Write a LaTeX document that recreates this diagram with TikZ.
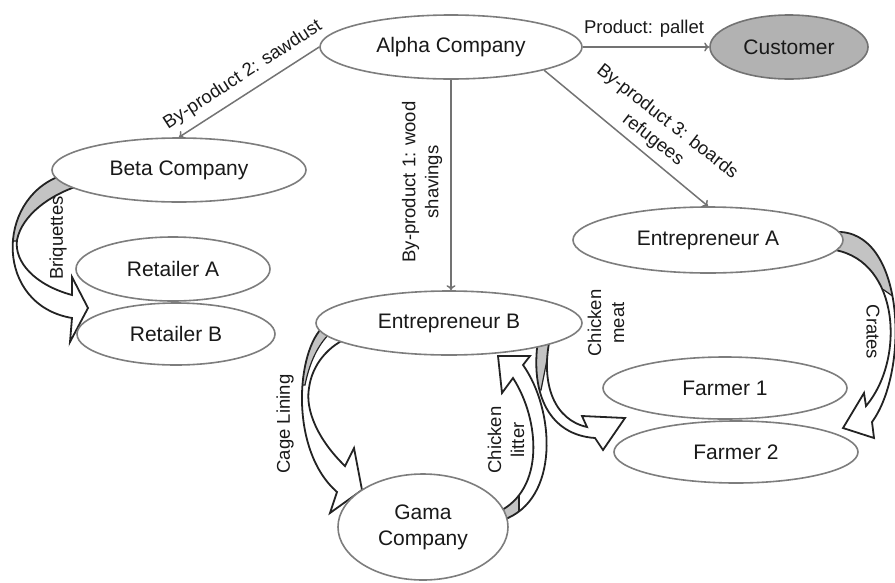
\documentclass[tikz,border=0pt]{standalone}
\usepackage{fontspec}
\setmainfont{Liberation Sans}
\usetikzlibrary{shapes.geometric,arrows.meta}
\definecolor{ellline}{RGB}{125,125,125}
\definecolor{connc}{RGB}{115,115,115}
\definecolor{custfill}{RGB}{178,178,178}
\definecolor{wedgec}{RGB}{195,195,195}
\definecolor{ink}{RGB}{25,25,25}
\definecolor{bandc}{RGB}{35,35,35}
\begin{document}
\begin{tikzpicture}[x=1pt,y=-1pt,
  ell/.style={ellipse, draw=ellline, line width=1.6pt, fill=white, inner sep=0pt,
    font=\fontsize{21}{26}\selectfont, text=ink, align=center},
  lab/.style={font=\fontsize{18.5}{23}\selectfont, text=ink, inner sep=0pt, align=center},
  conn/.style={draw=connc, line width=1.5pt, -{To[length=5pt,width=9pt]}},
  band/.style={draw=bandc, line width=1.8pt, line join=miter},
  bandfill/.style={fill=white},
  wedge/.style={fill=wedgec, draw=bandc, line width=1.2pt},
]
\useasboundingbox (0,0) rectangle (895,582);

% ---------- block arrows ----------
\def\bandBriq{(60,176) .. controls (-5,200) and (-5,305) .. (72,318) -- (70,342) -- (88,308) -- (72,277) -- (72,295) .. controls (35,285) and (14,262) .. (17,240) .. controls (22,215) and (50,195) .. (78,186) -- cycle}
\def\bandCage{(324,326) .. controls (296,350) and (289,450) .. (337,492) -- (330,513) -- (362,490) -- (354,448) -- (345,466) .. controls (318,440) and (305,410) .. (309,388) .. controls (312,365) and (328,345) .. (352,336) -- cycle}
\def\bandLit{(503,520) .. controls (560,500) and (555,410) .. (523,365) -- (530,356) -- (498,356) -- (502,393) -- (513,378) .. controls (540,420) and (545,490) .. (498,512) -- cycle}
\def\bandMeat{(538,340) .. controls (530,395) and (550,435) .. (595,438) -- (603,450) -- (625,418) -- (582,416) -- (587,427) .. controls (555,420) and (540,385) .. (550,338) -- cycle}
\def\bandCrat{(835,232) .. controls (905,228) and (910,370) .. (872,422) -- (874,438) -- (843,428) -- (864,393) -- (866,406) .. controls (905,360) and (900,262) .. (835,250) -- cycle}

\fill[bandfill] \bandBriq;
\begin{scope}\clip \bandBriq;
  \draw[wedge] (-10,150) -- (100,150) -- (100,200) -- (17,241) -- (-10,241) -- cycle;
\end{scope}
\draw[band] \bandBriq;

\fill[bandfill] \bandCage;
\begin{scope}\clip \bandCage;
  \draw[wedge] (290,320) -- (336,320) -- (336,328) .. controls (320,340) and (310,360) .. (305,385) -- (290,385) -- cycle;
\end{scope}
\draw[band] \bandCage;

\fill[bandfill] \bandLit;
\begin{scope}\clip \bandLit;
  \draw[wedge] (480,490) -- (519,490) -- (519,540) -- (480,540) -- cycle;
\end{scope}
\draw[band] \bandLit;

\fill[bandfill] \bandMeat;
\begin{scope}\clip \bandMeat;
  \draw[wedge] (520,330) -- (551,330) -- (551,338) .. controls (548,355) and (545,370) .. (541,390) -- (520,390) -- cycle;
\end{scope}
\draw[band] \bandMeat;

\fill[bandfill] \bandCrat;
\begin{scope}\clip \bandCrat;
  \draw[wedge] (820,200) -- (905,200) -- (905,305) -- (884,290) -- (820,262) -- cycle;
\end{scope}
\draw[band] \bandCrat;

% ---------- nodes ----------
\node[ell, minimum width=262pt, minimum height=64pt] (alpha) at (451,47) {Alpha Company};
\node[ell, fill=custfill, draw=black!55, minimum width=158pt, minimum height=64pt] (cust) at (789,47) {Customer};
\node[ell, minimum width=254pt, minimum height=64pt] (beta) at (179,170) {Beta Company};
\node[ell, minimum width=194pt, minimum height=64pt] (retA) at (173,269) {Retailer A};
\node[ell, minimum width=198pt, minimum height=62pt] (retB) at (176,334) {Retailer B};
\node[ell, minimum width=266pt, minimum height=64pt] (entB) at (449,323) {Entrepreneur B};
\node[ell, minimum width=170pt, minimum height=106pt] (gama) at (423,527) {Gama\\Company};
\node[ell, minimum width=270pt, minimum height=66pt] (entA) at (708,240) {Entrepreneur A};
\node[ell, minimum width=244pt, minimum height=62pt] (f1) at (725,388) {Farmer 1};
\node[ell, minimum width=244pt, minimum height=62pt] (f2) at (736,452) {Farmer 2};

% ---------- connectors ----------
\draw[conn] (alpha.east) -- (cust.west);
\draw[conn] (alpha.west) -- (beta.north);
\draw[conn] (alpha.south) -- (alpha.south |- entB.north);
\draw[conn] (alpha.-14) -- (entA.north);

% ---------- labels ----------
\node[lab] (lprod) at (644,29) {Product: pallet};
\node[lab, rotate=33] (lby2) at (243,75) {By-product 2: sawdust};
\node[lab, rotate=90] (lby1) at (422,182) {By-product 1: wood\\shavings};
\node[lab, rotate=-38] (lby3) at (660,131) {By-product 3: boards\\refugees};
\node[lab, rotate=90] (lbriq) at (58,238) {Briquettes};
\node[lab, rotate=90] (lcage) at (285,424) {Cage Lining};
\node[lab, rotate=90] (llit) at (506,440) {Chicken\\litter};
\node[lab, rotate=90] (lmeat) at (606,323) {Chicken\\meat};
\node[lab, rotate=-90] (lcrates) at (873,332) {Crates};
\end{tikzpicture}
\end{document}
